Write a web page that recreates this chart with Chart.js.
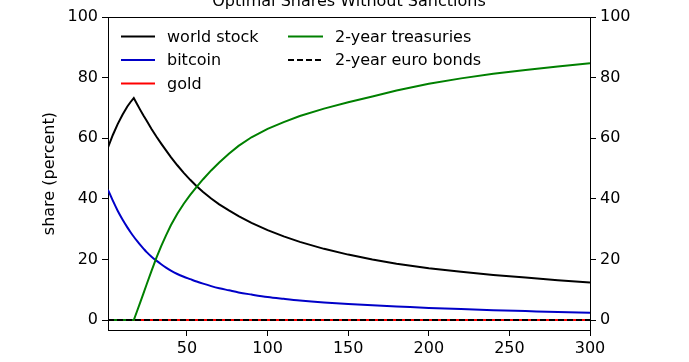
<!DOCTYPE html>
<html>
<head>
<meta charset="utf-8">
<script src="https://cdn.jsdelivr.net/npm/chart.js@4/dist/chart.umd.min.js"></script>
<style>
  html, body { margin: 0; padding: 0; background: #fff; }
  #wrap { width: 689px; height: 362px; position: relative; }
</style>
</head>
<body>
<div id="wrap"><canvas id="c"></canvas></div>
<script>
// ---- data ----
const chartTitle = 'Optimal Shares Without Sanctions';
const yAxisTitle = 'share (percent)';
const xValues = [1, 4, 7, 10, 13, 15, 17, 19, 21, 23, 25, 28, 31, 34, 37, 40, 44, 48, 52, 56, 60, 65, 70, 76, 82, 90, 100, 110, 120, 135, 150, 165, 180, 200, 220, 240, 260, 280, 300];
const worldStock = [57.0, 61.1, 64.7, 67.8, 70.5, 72.0, 73.3, 71.35, 69.4, 67.5, 65.8, 63.1, 60.6, 58.25, 56.0, 53.8, 51.1, 48.6, 46.3, 44.2, 42.3, 40.1, 38.2, 36.2, 34.3, 32.1, 29.7, 27.6, 25.8, 23.5, 21.6, 20.0, 18.6, 17.1, 15.9, 14.9, 14.0, 13.15, 12.35];
const bitcoin = [43.0, 39.4, 36.1, 33.2, 30.6, 29.0, 27.5, 26.1, 24.8, 23.6, 22.4, 20.9, 19.6, 18.4, 17.3, 16.3, 15.2, 14.3, 13.5, 12.7, 12.0, 11.2, 10.5, 9.8, 9.1, 8.4, 7.6, 7.0, 6.45, 5.8, 5.3, 4.85, 4.5, 4.0, 3.6, 3.25, 2.95, 2.65, 2.4];
const gold = [0, 0, 0, 0, 0, 0, 0, 0, 0, 0, 0, 0, 0, 0, 0, 0, 0, 0, 0, 0, 0, 0, 0, 0, 0, 0, 0, 0, 0, 0, 0, 0, 0, 0, 0, 0, 0, 0, 0];
const treasuries2y = [0, 0, 0, 0, 0, 0, 0, 2.9, 5.85, 8.8, 11.8, 16.2, 20.5, 24.4, 27.95, 31.3, 35.1, 38.4, 41.3, 44.0, 46.5, 49.4, 52.0, 54.9, 57.5, 60.35, 63.1, 65.35, 67.35, 69.8, 71.9, 73.8, 75.8, 78.0, 79.8, 81.3, 82.6, 83.7, 84.8];
const euroBonds2y = [0, 0, 0, 0, 0, 0, 0, 0, 0, 0, 0, 0, 0, 0, 0, 0, 0, 0, 0, 0, 0, 0, 0, 0, 0, 0, 0, 0, 0, 0, 0, 0, 0, 0, 0, 0, 0, 0, 0];
const seriesNames = ['world stock', 'bitcoin', 'gold', '2-year treasuries', '2-year euro bonds'];
const xTicks = [50, 100, 150, 200, 250, 300];
const yTicks = [0, 20, 40, 60, 80, 100];

// ---- styling ----
const FONT = "'DejaVu Sans', 'Liberation Sans', sans-serif";
Chart.defaults.font.family = FONT;
Chart.defaults.font.size = 16;
Chart.defaults.color = '#000';

const toPts = arr => xValues.map((x, i) => ({ x: x, y: arr[i] }));
const seriesData = [worldStock, bitcoin, gold, treasuries2y, euroBonds2y];
const colors = ['#000000', '#0000c8', '#ff0000', '#008000', '#000000'];
const dashes = [[], [], [], [], [6, 3]];
const interp = ['default', 'monotone', 'default', 'default', 'default'];

const datasets = seriesData.map((arr, i) => ({
  label: seriesNames[i],
  data: toPts(arr),
  borderColor: colors[i],
  backgroundColor: colors[i],
  borderWidth: 2,
  borderDash: dashes[i],
  pointRadius: 0,
  tension: 0,
  cubicInterpolationMode: interp[i],
  fill: false,
  order: seriesData.length - 1 - i
}));

const bgPlugin = {
  id: 'bg',
  beforeDraw(chart) {
    const ctx = chart.ctx;
    ctx.save();
    ctx.fillStyle = '#fff';
    ctx.fillRect(0, 0, chart.width, chart.height);
    ctx.restore();
  }
};

const framePlugin = {
  id: 'frame',
  afterDraw(chart) {
    const { ctx, chartArea: a } = chart;
    ctx.save();
    ctx.strokeStyle = '#000';
    ctx.lineWidth = 1;
    ctx.beginPath();
    const t = Math.round(a.top) + 0.5;
    ctx.moveTo(a.left, t);
    ctx.lineTo(a.right, t);
    ctx.stroke();
    ctx.restore();
  }
};

// matplotlib-style two-column legend inside the axes
const legendPlugin = {
  id: 'mplLegend',
  afterDraw(chart) {
    const ctx = chart.ctx;
    const cols = [{ lx: 121, len: 34, tx: 167 }, { lx: 288, len: 35, tx: 335 }];
    const rows = [36.5, 60, 83.5];
    const layout = [[0, 0], [0, 1], [0, 2], [1, 0], [1, 1]];
    ctx.save();
    ctx.font = '16px ' + FONT;
    ctx.textBaseline = 'middle';
    ctx.textAlign = 'left';
    chart.data.datasets.forEach((ds, i) => {
      const [c, r] = layout[i];
      const col = cols[c];
      const y = rows[r];
      ctx.strokeStyle = ds.borderColor;
      ctx.lineWidth = 2;
      ctx.setLineDash(ds.borderDash || []);
      ctx.beginPath();
      ctx.moveTo(col.lx, y);
      ctx.lineTo(col.lx + col.len, y);
      ctx.stroke();
      ctx.setLineDash([]);
      ctx.fillStyle = '#000';
      ctx.fillText(ds.label, col.tx, y + 1);
    });
    ctx.restore();
  }
};

const tickSet = (vals) => (scale) => { scale.ticks = vals.map(v => ({ value: v })); };

const yCommon = (pos, width) => ({
  type: 'linear',
  position: pos,
  min: -3.3,
  max: 100,
  afterBuildTicks: tickSet(yTicks),
  afterFit: (s) => { s.width = width; },
  grid: { display: true, drawOnChartArea: false, drawTicks: true, tickLength: 6, tickColor: '#000', tickWidth: 1 },
  border: { display: true, color: '#000', width: 1 },
  ticks: { padding: 4, color: '#000', font: { size: 16 } }
});

const yLeft = yCommon('left', 108);
yLeft.title = { display: true, text: yAxisTitle, color: '#000', font: { size: 16 }, padding: { top: 40, bottom: 0 } };
const yRight = yCommon('right', 99);

new Chart(document.getElementById('c'), {
  type: 'line',
  data: { datasets: datasets },
  options: {
    responsive: true,
    maintainAspectRatio: false,
    animation: false,
    layout: { padding: 0 },
    plugins: {
      legend: { display: false },
      tooltip: { enabled: false },
      title: {
        display: true,
        text: chartTitle,
        fullSize: false,
        color: '#000',
        font: { size: 16, weight: 'normal' },
        padding: { top: -8, bottom: 6 }
      }
    },
    scales: {
      x: {
        type: 'linear',
        position: 'bottom',
        min: 1,
        max: 300,
        afterBuildTicks: tickSet(xTicks),
        afterFit: (s) => { s.height = 32; },
        grid: { display: true, drawOnChartArea: false, drawTicks: true, tickLength: 6, tickColor: '#000', tickWidth: 1 },
        border: { display: true, color: '#000', width: 1 },
        ticks: { padding: 3, color: '#000', maxRotation: 0, font: { size: 16 } }
      },
      y: yLeft,
      y2: yRight
    }
  },
  plugins: [bgPlugin, framePlugin, legendPlugin]
});
</script>
</body>
</html>
